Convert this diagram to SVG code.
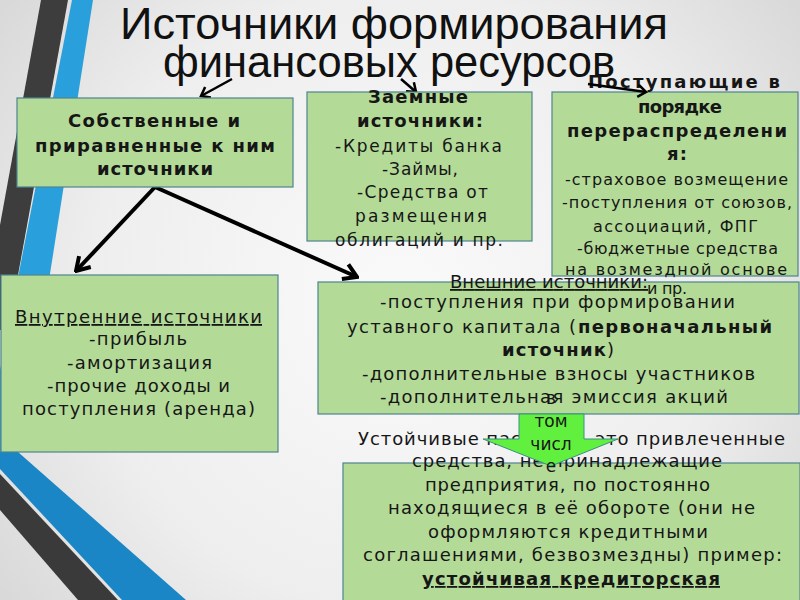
<svg xmlns="http://www.w3.org/2000/svg" width="800" height="600" viewBox="0 0 800 600">
<defs>
<radialGradient id="bg" cx="400" cy="300" r="520" gradientUnits="userSpaceOnUse">
<stop offset="0" stop-color="#fafafa"/><stop offset="0.6" stop-color="#eeeeee"/><stop offset="1" stop-color="#d6d6d6"/>
</radialGradient>
<marker id="ah" viewBox="-16 -10 18 20" markerWidth="18" markerHeight="20" refX="0" refY="0" orient="auto" markerUnits="userSpaceOnUse">
<path d="M-13,-8 L0,0 L-13,8" fill="none" stroke="#000" stroke-width="4"/>
</marker>
<marker id="ahs" viewBox="-12 -8 14 16" markerWidth="14" markerHeight="16" refX="0" refY="0" orient="auto" markerUnits="userSpaceOnUse">
<path d="M-8,-6 L0,0 L-8,6" fill="none" stroke="#000" stroke-width="2.5"/>
</marker>
<style>
.box{fill:#b4da98;stroke:#4f8490;stroke-width:1.2}
.t{font-family:"DejaVu Sans","Noto Sans",sans-serif;fill:#161616}
.b{font-weight:bold}
.s16{font-size:16px}.s17{font-size:17px}.s18{font-size:18px}
.u{text-decoration:underline}
.ttl{font-family:"Liberation Sans","DejaVu Sans",sans-serif;font-size:44px;fill:#111}
.thick{stroke:#000;stroke-width:4;fill:none}
.thin{stroke:#000;stroke-width:2.5;fill:none}
</style>
</defs>
<rect width="800" height="600" fill="url(#bg)"/>
<g id="decor">
<polygon points="41,0 68,0 8,330 0,330 0,225" fill="#3d3d3d"/>
<polygon points="72,0 93,0 22,452 0,452 0,370" fill="#29a0dc"/>
<polygon points="0,452 18,452 186,600 122,600 0,469" fill="#1a86c6"/>
<polygon points="0,474 118,600 78,600 0,510" fill="#3a3a3a"/>
</g>
<g id="title">
<text class="ttl" x="120" y="39" textLength="548" lengthAdjust="spacingAndGlyphs">Источники формирования</text>
<text class="ttl" x="163" y="77" textLength="452" lengthAdjust="spacingAndGlyphs">финансовых ресурсов</text>
</g>
<g id="connectors">
<line class="thin" x1="232" y1="79" x2="201" y2="96" marker-end="url(#ahs)"/>
<line class="thin" x1="401" y1="79" x2="416" y2="92" marker-end="url(#ahs)"/>
<line class="thick" x1="155" y1="187" x2="76" y2="271" marker-end="url(#ah)"/>
<line class="thick" x1="155" y1="187" x2="357" y2="277" marker-end="url(#ah)"/>
</g>
<g id="own">
<rect class="box" x="17" y="98" width="276" height="89"/>
<text class="t b s18" x="68" y="127" textLength="172" lengthAdjust="spacing">Собственные и</text>
<text class="t b s18" x="35" y="152" textLength="240" lengthAdjust="spacing">приравненные к ним</text>
<text class="t b s18" x="97" y="175" textLength="116" lengthAdjust="spacing">источники</text>
</g>
<g id="borrowed">
<rect class="box" x="307" y="92" width="225" height="149"/>
<text class="t b s18" x="368" y="103" textLength="100" lengthAdjust="spacing">Заемные</text>
<text class="t b s18" x="357" y="127" textLength="126" lengthAdjust="spacing">источники:</text>
<text class="t s17" x="335" y="152" textLength="167" lengthAdjust="spacing">-Кредиты банка</text>
<text class="t s17" x="382" y="175" textLength="76" lengthAdjust="spacing">-Займы,</text>
<text class="t s17" x="357" y="198" textLength="131" lengthAdjust="spacing">-Средства от</text>
<text class="t s17" x="355" y="222" textLength="132" lengthAdjust="spacing">размещения</text>
<text class="t s17" x="335" y="246" textLength="168" lengthAdjust="spacing">облигаций и пр.</text>
</g>
<g id="internal">
<rect class="box" x="1" y="275" width="277" height="177"/>
<text class="t s18 u" x="15" y="323" textLength="247" lengthAdjust="spacing">Внутренние источники</text>
<text class="t s18" x="89" y="345" textLength="98" lengthAdjust="spacing">-прибыль</text>
<text class="t s18" x="67" y="369" textLength="145" lengthAdjust="spacing">-амортизация</text>
<text class="t s18" x="47" y="392" textLength="183" lengthAdjust="spacing">-прочие доходы и</text>
<text class="t s18" x="22" y="415" textLength="233" lengthAdjust="spacing">поступления (аренда)</text>
</g>
<g id="external">
<rect class="box" x="318" y="282" width="481" height="132"/>
<text class="t s18 u" x="450" y="288" textLength="198" lengthAdjust="spacing">Внешние источники:</text>
<text class="t s18" x="380" y="308" textLength="355" lengthAdjust="spacing">-поступления при формировании</text>
<text class="t s18" x="347" y="333" textLength="229" lengthAdjust="spacing">уставного капитала (</text>
<text class="t b s18" x="578" y="333" textLength="194" lengthAdjust="spacing">первоначальный</text>
<text class="t b s18" x="502" y="356" textLength="104" lengthAdjust="spacing">источник</text>
<text class="t s18" x="607" y="356">)</text>
<text class="t s18" x="362" y="380" textLength="393" lengthAdjust="spacing">-дополнительные взносы участников</text>
<text class="t s18" x="380" y="403" textLength="348" lengthAdjust="spacing">-дополнительная эмиссия акций</text>
</g>
<g id="redistribution">
<rect class="box" x="552" y="92" width="246" height="184"/>
<text class="t b s18" x="588" y="88" textLength="192" lengthAdjust="spacing">Поступающие в</text>
<text class="t b s18" x="638" y="113" textLength="84" lengthAdjust="spacing">порядке</text>
<text class="t b s18" x="567" y="137" textLength="220" lengthAdjust="spacing">перераспределени</text>
<text class="t b s18" x="667" y="160" textLength="20" lengthAdjust="spacing">я:</text>
<text class="t s16" x="565" y="185" textLength="223" lengthAdjust="spacing">-страховое возмещение</text>
<text class="t s16" x="562" y="208" textLength="230" lengthAdjust="spacing">-поступления от союзов,</text>
<text class="t s16" x="593" y="232" textLength="165" lengthAdjust="spacing">ассоциаций, ФПГ</text>
<text class="t s16" x="577" y="254" textLength="201" lengthAdjust="spacing">-бюджетные средства</text>
<text class="t s16" x="565" y="275" textLength="222" lengthAdjust="spacing">на возмездной основе</text>
<text class="t s16" x="647" y="294" textLength="40" lengthAdjust="spacing">и пр.</text>
</g>
<line class="thin" x1="588" y1="84" x2="646" y2="92" marker-end="url(#ahs)"/>
<g id="stable">
<rect class="box" x="343" y="463" width="457" height="140"/>
<text class="t s18" x="358" y="445" textLength="427" lengthAdjust="spacing">Устойчивые пассивы – это привлеченные</text>
<text class="t s18" x="412" y="467" textLength="310" lengthAdjust="spacing">средства, не принадлежащие</text>
<text class="t s18" x="425" y="491" textLength="285" lengthAdjust="spacing">предприятия, по постоянно</text>
<text class="t s18" x="388" y="514" textLength="367" lengthAdjust="spacing">находящиеся в её обороте (они не</text>
<text class="t s18" x="428" y="538" textLength="280" lengthAdjust="spacing">оформляются кредитными</text>
<text class="t s18" x="363" y="561" textLength="419" lengthAdjust="spacing">соглашениями, безвозмездны) пример:</text>
<text class="t b s18 u" x="422" y="585" textLength="298" lengthAdjust="spacing">устойчивая кредиторская</text>
</g>
<g id="green-arrow">
<polygon points="519,414 584,414 584,439 618,439 551,466 483,439 519,439" fill="#62f03e" stroke="#3b8f86" stroke-width="1"/>
<text class="t s17" x="551" y="404" text-anchor="middle">в</text>
<text class="t s17" x="551" y="427" text-anchor="middle">том</text>
<text class="t s17" x="551" y="450" text-anchor="middle">числ</text>
<text class="t s17" x="551" y="472" text-anchor="middle">е</text>
</g>
</svg>
